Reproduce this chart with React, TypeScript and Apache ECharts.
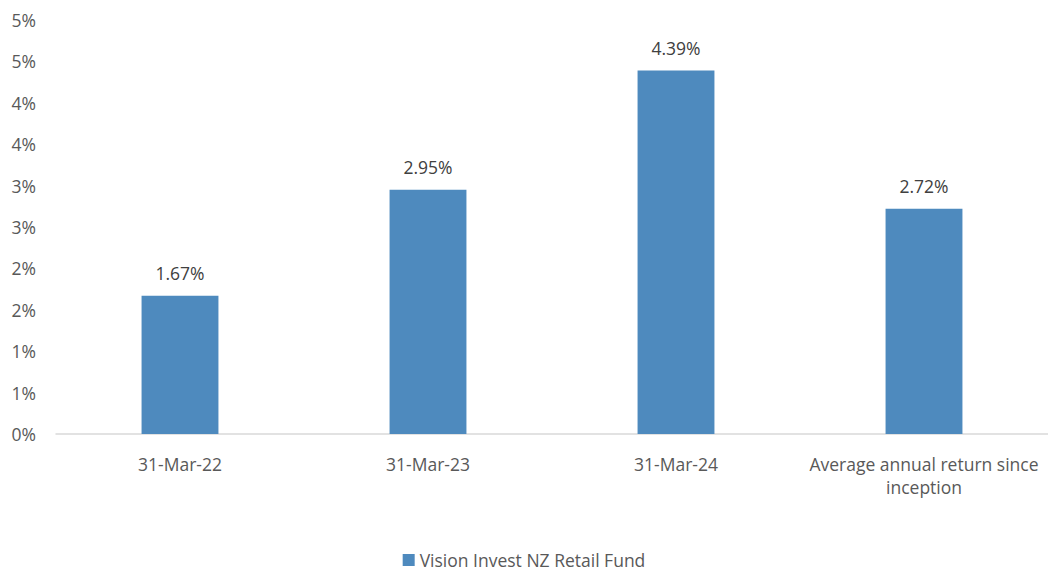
import React, { useEffect, useRef } from "react";
import * as echarts from "echarts";

const categories = ["31-Mar-22", "31-Mar-23", "31-Mar-24", "Average annual return since\ninception"];
const seriesName = "Vision Invest NZ Retail Fund";
const values = [1.67, 2.95, 4.39, 2.72];

const FONT = "Open Sans";

export default function App() {
  const ref = useRef<HTMLDivElement>(null);
  useEffect(() => {
    document.body.style.margin = "0";
    const chart = echarts.init(ref.current!, null, { renderer: "svg" });
    chart.setOption({
      animation: false,
      textStyle: { fontFamily: FONT },
      grid: { left: 56, top: 20, width: 996, height: 414, containLabel: false },
      legend: {
        top: 551,
        left: "center",
        itemWidth: 12,
        itemHeight: 12,
        icon: "rect",
        itemGap: 10,
        padding: 0,
        textStyle: { fontFamily: FONT, fontSize: 17.5, color: "#595959", lineHeight: 18 },
        data: [seriesName],
      },
      xAxis: {
        type: "category",
        data: categories,
        axisLine: { lineStyle: { color: "#d9d9d9", width: 1.5 } },
        axisTick: { show: false },
        axisLabel: { fontFamily: FONT, fontSize: 17.5, color: "#595959", margin: 18, lineHeight: 23, interval: 0 },
      },
      yAxis: {
        type: "value",
        min: 0,
        max: 5,
        interval: 0.5,
        splitLine: { show: false },
        axisLine: { show: false },
        axisTick: { show: false },
        axisLabel: {
          fontFamily: FONT,
          fontSize: 17.5,
          color: "#595959",
          margin: 20,
          formatter: (v: number) => Math.round(v) + "%",
        },
      },
      series: [
        {
          name: seriesName,
          type: "bar",
          data: values,
          barWidth: "31%",
          itemStyle: { color: "#4E8ABE" },
          label: {
            show: true,
            position: "top",
            distance: 14,
            fontFamily: FONT,
            fontSize: 17.5,
            color: "#404040",
            formatter: (p: any) => p.value.toFixed(2) + "%",
          },
        },
      ],
    });
    return () => chart.dispose();
  }, []);
  return <div ref={ref} style={{ width: 1048, height: 572 }} />;
}
